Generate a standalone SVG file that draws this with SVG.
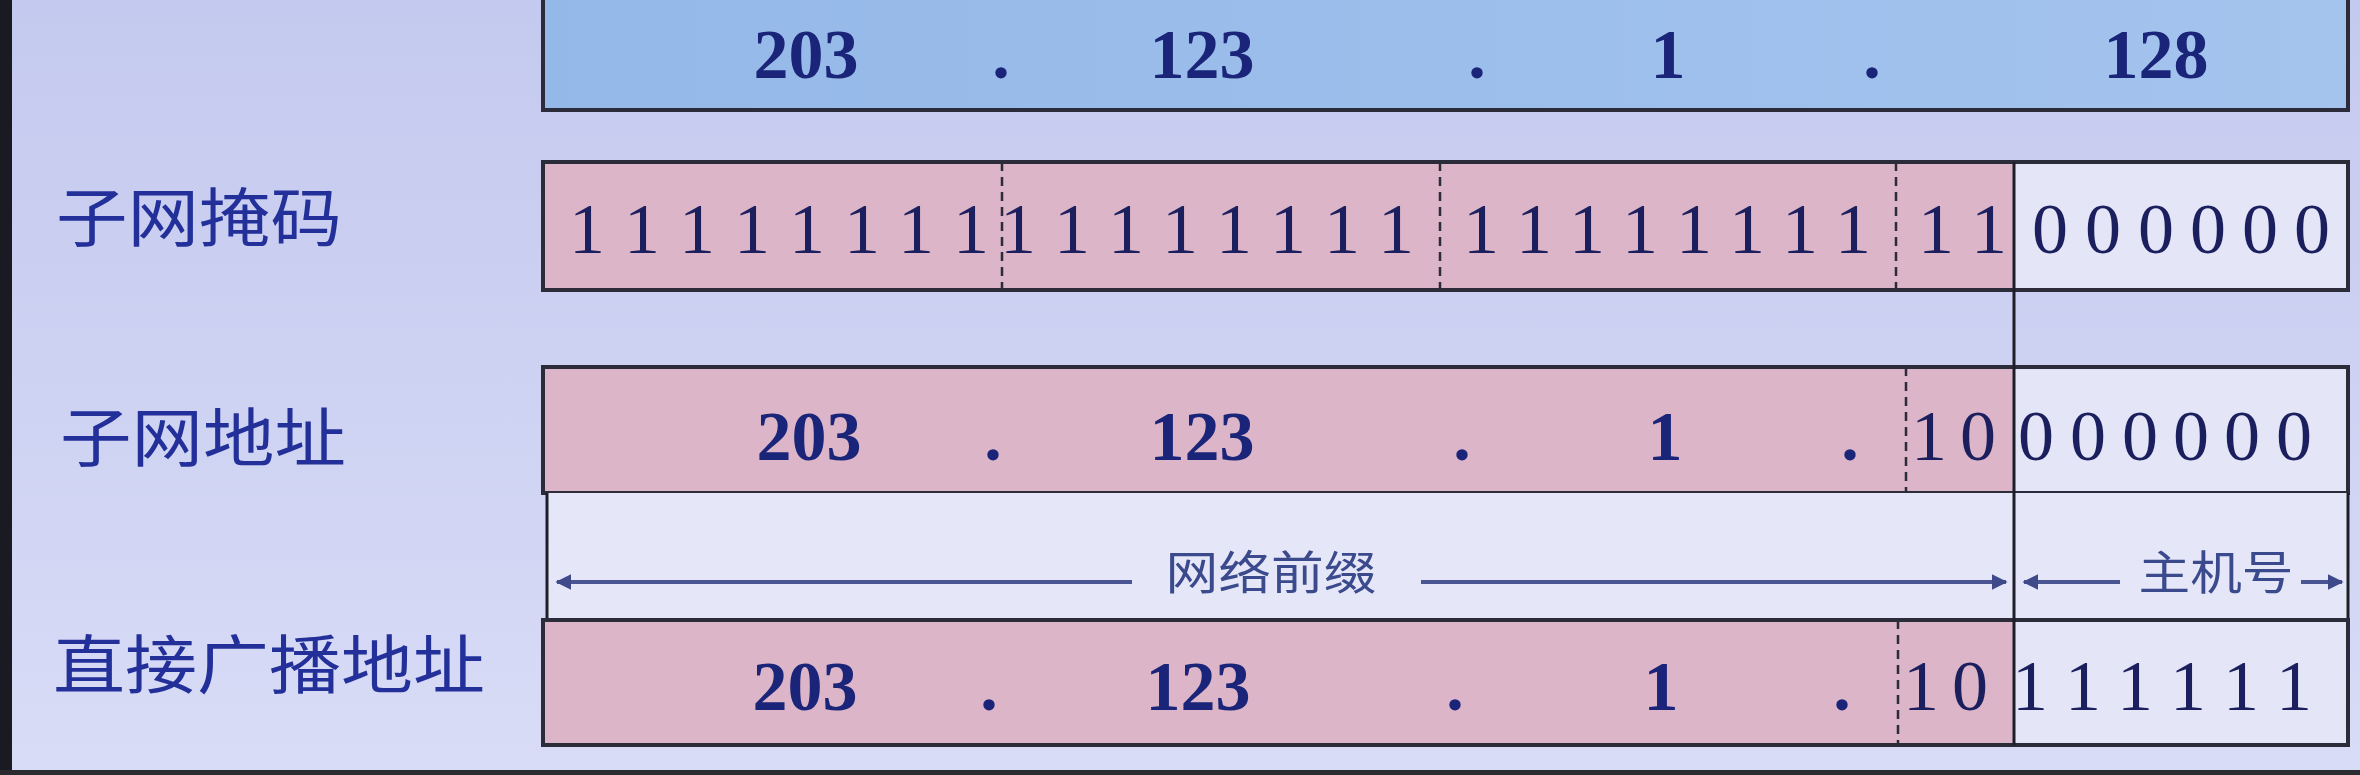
<svg xmlns="http://www.w3.org/2000/svg" width="2360" height="775" viewBox="0 0 2360 775">
<defs>
<linearGradient id="bg" x1="0" y1="0" x2="0" y2="1">
<stop offset="0" stop-color="#c4c9ef"/>
<stop offset="1" stop-color="#d8dcf6"/>
</linearGradient>
<linearGradient id="blue" x1="0" y1="0" x2="1" y2="0">
<stop offset="0" stop-color="#94b8e8"/>
<stop offset="1" stop-color="#a4c4ee"/>
</linearGradient>
<marker id="ah" viewBox="0 0 10 10" refX="9" refY="5" markerWidth="4" markerHeight="4" orient="auto-start-reverse" markerUnits="strokeWidth">
<path d="M0,0 L10,5 L0,10 z" fill="#3e4a8a"/>
</marker>
<style>
.box{stroke:#2b2b3a;stroke-width:4;fill:none}
.pink{fill:#dcb5c8}
.light{fill:#e4e6f8}
.dash{stroke:#2b2b3a;stroke-width:2.5;stroke-dasharray:9 6}
.solid{stroke:#1e1e2a;stroke-width:3}
.ip{font-family:"Liberation Serif",serif;font-weight:bold;font-size:70px;fill:#1a2478;text-anchor:middle}
.bit{font-family:"Liberation Serif",serif;font-size:72px;fill:#1c1f5e;text-anchor:middle}
.lab{font-family:"Noto Sans CJK SC","Noto Sans",sans-serif;font-size:64px;fill:#23309a}
.cap{font-family:"Noto Sans CJK SC","Noto Sans",sans-serif;font-size:46px;fill:#3b4a8c;text-anchor:middle}
.arr{stroke:#4a5694;stroke-width:4;fill:none}
</style>
</defs>
<rect x="0" y="0" width="2360" height="775" fill="url(#bg)"/>
<rect x="0" y="0" width="12" height="775" fill="#1a1a22"/>
<rect x="0" y="770" width="2360" height="5" fill="#2a2a30"/>

<g id="row-ip">
<rect x="543" y="-6" width="1805" height="116" fill="url(#blue)"/>
<rect x="543" y="-6" width="1805" height="116" class="box"/>
<text class="ip" x="806" y="78">203</text>
<text class="ip" x="1001" y="78">.</text>
<text class="ip" x="1202" y="78">123</text>
<text class="ip" x="1477" y="78">.</text>
<text class="ip" x="1668" y="78">1</text>
<text class="ip" x="1872" y="78">.</text>
<text class="ip" x="2156" y="78">128</text>
</g>

<g id="row-mask">
<text class="lab" x="56" y="241" textLength="286" lengthAdjust="spacingAndGlyphs">子网掩码</text>
<rect x="543" y="162" width="1805" height="128" class="light"/>
<rect x="543" y="162" width="1471" height="128" class="pink"/>
<line x1="1002" y1="162" x2="1002" y2="290" class="dash"/>
<line x1="1440" y1="162" x2="1440" y2="290" class="dash"/>
<line x1="1896" y1="162" x2="1896" y2="290" class="dash"/>
<rect x="543" y="162" width="1805" height="128" class="box"/>
<text class="bit" x="587 642 697 752 807 862 916 971" y="253">11111111</text>
<text class="bit" x="1018 1072 1126 1180 1234 1288 1342 1396" y="253">11111111</text>
<text class="bit" x="1481 1534 1587 1640 1694 1747 1800 1853" y="253">11111111</text>
<text class="bit" x="1936 1989" y="253">11</text>
<text class="bit" x="2050 2103 2156 2208 2260 2312" y="253">000000</text>
</g>

<g id="row-subnet">
<text class="lab" x="60" y="461" textLength="286" lengthAdjust="spacingAndGlyphs">子网地址</text>
<rect x="543" y="367" width="1805" height="126" class="light"/>
<rect x="543" y="367" width="1471" height="126" class="pink"/>
<line x1="1906" y1="367" x2="1906" y2="493" class="dash"/>
<rect x="543" y="367" width="1805" height="126" class="box"/>
<text class="ip" x="809" y="460">203</text>
<text class="ip" x="993" y="460">.</text>
<text class="ip" x="1202" y="460">123</text>
<text class="ip" x="1462" y="460">.</text>
<text class="ip" x="1665" y="460">1</text>
<text class="ip" x="1850" y="460">.</text>
<text class="bit" x="1929 1978" y="460">10</text>
<text class="bit" x="2036 2088 2140 2191 2242 2294" y="460">000000</text>
</g>

<g id="row-legend">
<rect x="547" y="493" width="1801" height="127" fill="#e5e7f8"/>
<line x1="547" y1="493" x2="547" y2="620" class="solid"/>
<line x1="2348" y1="493" x2="2348" y2="620" class="solid"/>
<text class="cap" x="1271" y="589" textLength="211" lengthAdjust="spacingAndGlyphs">网络前缀</text>
<text class="cap" x="2216" y="589" textLength="155" lengthAdjust="spacingAndGlyphs">主机号</text>
</g>

<g id="row-broadcast">
<text class="lab" x="53" y="688" textLength="432" lengthAdjust="spacingAndGlyphs">直接广播地址</text>
<rect x="543" y="620" width="1805" height="125" class="light"/>
<rect x="543" y="620" width="1471" height="125" class="pink"/>
<line x1="1898" y1="620" x2="1898" y2="745" class="dash"/>
<rect x="543" y="620" width="1805" height="125" class="box"/>
<text class="ip" x="805" y="710">203</text>
<text class="ip" x="989" y="710">.</text>
<text class="ip" x="1198" y="710">123</text>
<text class="ip" x="1455" y="710">.</text>
<text class="ip" x="1661" y="710">1</text>
<text class="ip" x="1842" y="710">.</text>
<text class="bit" x="1921 1970" y="710">10</text>
<text class="bit" x="2030 2083 2135 2188 2241 2294" y="710">111111</text>
</g>

<g id="connectors">
<line x1="2014" y1="162" x2="2014" y2="745" class="solid"/>
<line x1="1132" y1="582" x2="557" y2="582" class="arr" marker-end="url(#ah)"/>
<line x1="1421" y1="582" x2="2006" y2="582" class="arr" marker-end="url(#ah)"/>
<line x1="2120" y1="582" x2="2024" y2="582" class="arr" marker-end="url(#ah)"/>
<line x1="2301" y1="582" x2="2342" y2="582" class="arr" marker-end="url(#ah)"/>
</g>
</svg>
